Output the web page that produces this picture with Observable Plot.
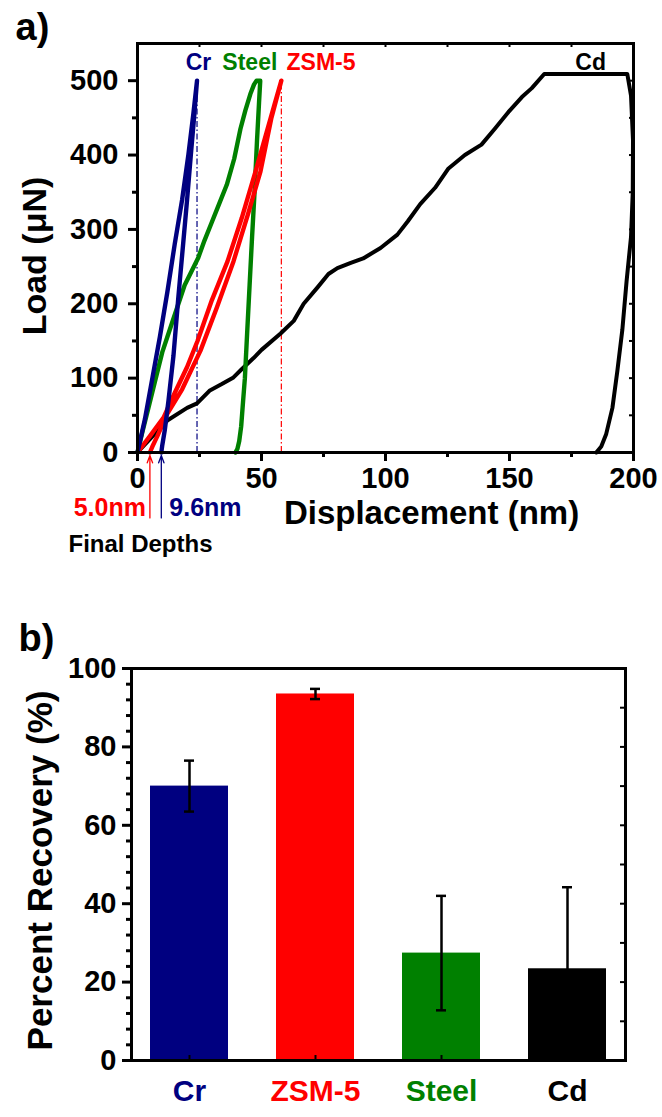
<!DOCTYPE html>
<html><head><meta charset="utf-8">
<script src="https://cdn.jsdelivr.net/npm/d3@7"></script>
<script src="https://cdn.jsdelivr.net/npm/@observablehq/plot@0.6"></script>
<style>
body{margin:0;background:#fff;}
#wrap{width:662px;height:1117px;overflow:hidden;font-family:"Liberation Sans",Arial,sans-serif;}
#wrap svg{display:block}
</style></head><body><div id="wrap"></div>
<script>
// ---------- Panel a data: load-displacement curves (loading then unloading) ----------
const crDisp  = [0, 3, 6, 9, 12, 15, 18, 20.5, 22.5, 24, 24, 22.8, 21.5, 20, 18.5, 16.5, 14.5, 12.5, 11, 10, 9.6];
const crLoad  = [0, 45, 100, 155, 215, 280, 340, 400, 455, 500, 500, 450, 400, 340, 284, 210, 130, 70, 30, 10, 0];

const steelDisp = [0, 2, 4.4, 7, 10, 13, 16, 19, 22, 24.5, 27, 30, 33, 36, 39, 41.5, 43.5, 45.5, 47, 48, 49.5,
                   49.0, 48.2, 47.2, 46.2, 45.2, 44.2, 43.3, 42.6, 41.8, 41, 40.3, 39.5];
const steelLoad = [0, 28, 60, 95, 135, 165, 195, 225, 245, 262, 285, 310, 335, 360, 395, 435, 460, 482, 495, 500, 500,
                   470, 420, 350, 290, 225, 160, 100, 70, 35, 15, 5, 0];

const zsmDisp = [0, 5, 10.5, 15, 20, 24.2, 30, 36.3, 42, 47.6, 52, 55, 58,
                 58, 54, 49.6, 44.5, 38.7, 32, 25.4, 18, 12, 8, 6, 5.0];
const zsmLoad = [0, 22, 47, 80, 115, 150, 205, 257, 315, 378, 430, 465, 500,
                 500, 450, 378, 320, 257, 195, 137, 85, 52, 22, 8, 0];

const cdDisp = [0, 5, 12, 20, 24, 29, 34, 38.7, 42, 46.8, 50, 57.7, 63, 67, 72.6, 77, 80.6, 86, 91, 98, 104.8, 109, 114,
                120, 125.4, 132, 138.7, 144, 149.6, 155, 159, 164, 197.5,
                199, 199.8, 199.7, 199, 197.2, 195.5, 193.5, 191.5, 189, 187, 185];
const cdLoad = [0, 18, 43, 60, 66, 83, 92, 101, 112, 127, 138, 160, 177, 200, 222, 240, 248, 255, 261, 275, 293, 311, 334,
                356, 382, 400, 414, 435, 458, 478, 490, 509, 509,
                480, 420, 350, 290, 230, 165, 110, 60, 25, 8, 0];

const finalDepthValues = [5.0, 9.6];          // nm, ZSM-5 and Cr
const finalDepthNames  = ["ZSM-5", "Cr"];

// ---------- Panel b data: percent recovery ----------
const categories = ["Cr", "ZSM-5", "Steel", "Cd"];
const recovery   = [70, 93.5, 27.4, 23.4];
const recoveryErr= [6.5, 1.3, 14.6, 20.8];

const colorOf = {"Cr": "#000080", "ZSM-5": "#ff0000", "Steel": "#008000", "Cd": "#000000"};

// ---------- build tables ----------
const series = [["Cd", cdDisp, cdLoad], ["Steel", steelDisp, steelLoad], ["ZSM-5", zsmDisp, zsmLoad], ["Cr", crDisp, crLoad]];
const curveRows = series.flatMap(([name, d, l]) => d.map((v, i) => ({name, d: v, l: l[i]})));
const guideRows = ["Cr", "ZSM-5"].map(n => {
  const s = series.find(s => s[0] === n);
  return {name: n, d: d3.max(s[1]), l: d3.max(s[2])};
});
const depthRows = finalDepthValues.map((v, i) => ({name: finalDepthNames[i], v}));
const barRows = categories.map((c, i) => ({cat: c, val: recovery[i], lo: recovery[i] - recoveryErr[i], hi: recovery[i] + recoveryErr[i]}));

const font = "Liberation Sans, Arial, Helvetica, sans-serif";
const wrap = document.getElementById("wrap");

// ---------- Panel a ----------
const labelRowsA = [
  {name: "Cr", d: 24.6}, {name: "Steel", d: 45.3}, {name: "ZSM-5", d: 74}, {name: "Cd", d: 182.7}
];
const plotA = Plot.plot({
  width: 662, height: 575,
  marginLeft: 137, marginRight: 29, marginTop: 43, marginBottom: 123,
  style: {fontFamily: font, background: "white", color: "black", overflow: "visible"},
  x: {domain: [0, 200]},
  y: {domain: [0, 550]},
  color: {type: "identity"},
  marks: [
    Plot.ruleX(guideRows, {x: "d", y1: 0, y2: "l", stroke: d => colorOf[d.name], strokeWidth: 1.2, strokeDasharray: "6,2.5,1.5,2.5"}),
    Plot.line(curveRows.filter(r => r.name === "Cd"), {x: "d", y: "l", stroke: "black", strokeWidth: 4, strokeLinejoin: "round", strokeLinecap: "round"}),
    Plot.line(curveRows.filter(r => r.name !== "Cd"), {x: "d", y: "l", z: "name", stroke: d => colorOf[d.name], strokeWidth: 4.4, strokeLinejoin: "round", strokeLinecap: "round"}),
    Plot.frame({stroke: "black", strokeWidth: 3}),
    Plot.axisY({ticks: [0, 100, 200, 300, 400, 500], tickSize: 9, strokeWidth: 3, tickPadding: 10, fontSize: 29, fontWeight: "bold", label: null}),
    Plot.axisY({ticks: [50, 150, 250, 350, 450], tickSize: 5, strokeWidth: 3, text: null, label: null}),
    Plot.axisX({ticks: [0, 50, 100, 150, 200], tickSize: 9, strokeWidth: 3, tickPadding: 6, fontSize: 29, fontWeight: "bold", label: null}),
    Plot.axisX({ticks: [25, 75, 125, 175], tickSize: 5, strokeWidth: 3, text: null, label: null}),
    Plot.tickY(d3.range(50, 550, 50), {y: d => d, insetLeft: 492, strokeWidth: 2}),
    Plot.tickX(d3.range(25, 200, 25), {x: d => d, insetBottom: 405, strokeWidth: 2}),
    Plot.text(labelRowsA, {x: "d", y: 524, text: "name", fill: d => colorOf[d.name], fontSize: 23, fontWeight: "bold"}),
    Plot.arrow(depthRows, {x1: "v", x2: "v", y1: -88, y2: -4, stroke: d => colorOf[d.name], strokeWidth: 1.3, headLength: 9, headAngle: 40}),
    Plot.text(depthRows.filter(d => d.name === "ZSM-5"), {x: "v", y: -74, text: d => d.v.toFixed(1) + "nm", fill: d => colorOf[d.name],
      textAnchor: "end", dx: -4, fontSize: 25, fontWeight: "bold"}),
    Plot.text(depthRows.filter(d => d.name === "Cr"), {x: "v", y: -74, text: d => d.v.toFixed(1) + "nm", fill: d => colorOf[d.name],
      textAnchor: "start", dx: 8, fontSize: 25, fontWeight: "bold"}),
    Plot.text(["Final Depths"], {frameAnchor: "bottom-left", dx: -69, dy: 99, textAnchor: "start", fontSize: 24, fontWeight: "bold"}),
    Plot.text(["Displacement (nm)"], {frameAnchor: "bottom", dx: 46, dy: 71, fontSize: 33, fontWeight: "bold"}),
    Plot.text(["Load (μN)"], {frameAnchor: "left", textAnchor: "middle", dx: -102, dy: 8, rotate: -90, fontSize: 34, fontWeight: "bold"}),
    Plot.text(["a)"], {frameAnchor: "top-left", dx: -122, dy: -30, fontSize: 38, fontWeight: "bold"})
  ]
});
wrap.appendChild(plotA);

// ---------- Panel b ----------
const minorB = d3.range(0, 101, 4).filter(v => v % 20 !== 0);
const plotB = Plot.plot({
  width: 662, height: 542,
  marginLeft: 131, marginRight: 37, marginTop: 93, marginBottom: 57,
  style: {fontFamily: font, background: "white", color: "black", overflow: "visible"},
  x: {type: "band", domain: categories, paddingInner: 0.38, paddingOuter: 0.15, axis: null},
  y: {domain: [0, 100]},
  color: {type: "identity"},
  marks: [
    Plot.barY(barRows, {x: "cat", y: "val", fill: d => colorOf[d.cat]}),
    Plot.ruleX(barRows, {x: "cat", y1: "lo", y2: "hi", stroke: "black", strokeWidth: 2.5}),
    Plot.tickY(barRows, {x: "cat", y: "hi", stroke: "black", strokeWidth: 2.5, insetLeft: 34, insetRight: 34}),
    Plot.tickY(barRows, {x: "cat", y: "lo", stroke: "black", strokeWidth: 2.5, insetLeft: 34, insetRight: 34}),
    Plot.frame({stroke: "black", strokeWidth: 3}),
    Plot.axisY({ticks: [0, 20, 40, 60, 80, 100], tickSize: 9, strokeWidth: 3, tickPadding: 6, fontSize: 29, fontWeight: "bold", label: null}),
    Plot.axisY({ticks: minorB, tickSize: 5, strokeWidth: 3, text: null, label: null}),
    Plot.tickY(d3.range(10, 100, 10), {y: d => d, insetLeft: 489, strokeWidth: 2}),
    Plot.tickX(categories, {x: d => d, insetTop: 387, strokeWidth: 2}),
    Plot.text(categories, {x: d => d, frameAnchor: "bottom", dy: 40, fill: d => colorOf[d], fontSize: 30, fontWeight: "bold"}),
    Plot.text(["Percent Recovery (%)"], {frameAnchor: "left", textAnchor: "middle", dx: -91, dy: 6, rotate: -90, fontSize: 35, fontWeight: "bold"}),
    Plot.text(["b)"], {frameAnchor: "top-left", dx: -113, dy: -44, fontSize: 38, fontWeight: "bold"})
  ]
});
wrap.appendChild(plotB);
</script>
</body></html>
